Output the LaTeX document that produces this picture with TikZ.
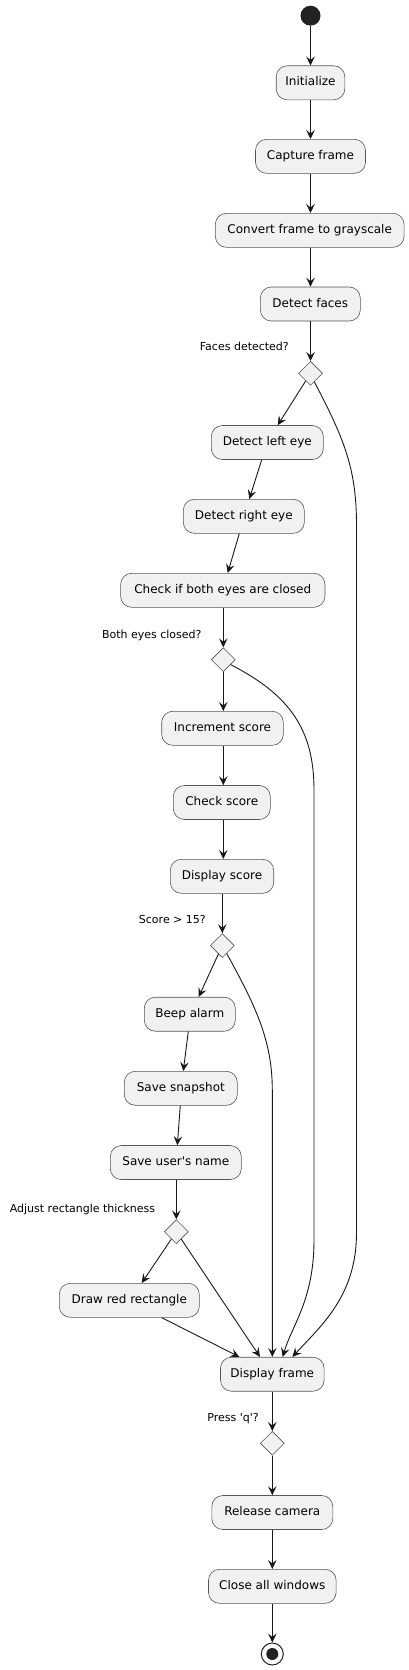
\documentclass[tikz,border=0pt]{standalone}
\usepackage{fontspec}
\setmainfont{DejaVu Sans}[Ligatures=TeXOff]
\usetikzlibrary{shapes.geometric,arrows.meta,positioning}
\definecolor{linec}{HTML}{181818}
\definecolor{borderc}{HTML}{555555}
\definecolor{boxfill}{HTML}{F1F1F1}
\definecolor{dotc}{HTML}{222222}
\tikzset{
  act/.style={draw=borderc, line width=0.6pt, fill=boxfill, rounded corners=11pt,
    minimum height=34pt, inner xsep=8pt, inner ysep=0pt, text height=8.8pt, text depth=2.6pt,
    font=\fontsize{12}{14}\selectfont},
  dec/.style={draw=borderc, line width=0.6pt, fill=boxfill, diamond, minimum width=24pt,
    minimum height=24pt, inner sep=0pt},
  lbl/.style={anchor=base east, inner sep=0pt, font=\fontsize{11}{13}\selectfont},
  arr/.style={draw=linec, line width=0.9pt, -{Stealth[length=9pt,width=8.5pt,inset=3.5pt]}}
}
\begin{document}
\begin{tikzpicture}[x=1pt,y=-1pt]
\useasboundingbox (0,0) rectangle (409,1670);
% nodes
\node[circle, fill=dotc, minimum size=20pt, inner sep=0] (start) at (310.5,15.7) {};
\node[act, minimum width=68.6pt] (init) at (310.5,82.8) {Initialize};
\node[act, minimum width=110pt] (cap) at (310.5,156.3) {Capture frame};
\node[act, minimum width=188.7pt] (conv) at (309.7,230.3) {Convert frame to grayscale};
\node[act, minimum width=100pt] (faces) at (310.3,304) {Detect faces};
\node[dec] (d1) at (310.5,373.3) {};
\node[lbl] (l1) at (289,350.7) {Faces detected?};
\node[act, minimum width=112pt] (le) at (267.3,442.5) {Detect left eye};
\node[act, minimum width=121pt] (re) at (243.8,516.3) {Detect right eye};
\node[act, minimum width=204.3pt] (chk) at (222.8,590.3) {Check if both eyes are closed};
\node[dec] (d2) at (223.3,659.7) {};
\node[lbl] (l2) at (201.7,638) {Both eyes closed?};
\node[act, minimum width=121.6pt] (inc) at (222.5,728.3) {Increment score};
\node[act, minimum width=97pt] (cs) at (221.8,802.5) {Check score};
\node[act, minimum width=103.4pt] (ds) at (222,876.3) {Display score};
\node[dec] (d3) at (222.3,945.5) {};
\node[lbl] (l3) at (206,923) {Score > 15?};
\node[act, minimum width=91pt] (beep) at (189.8,1014.2) {Beep alarm};
\node[act, minimum width=113pt] (snap) at (180.8,1088.3) {Save snapshot};
\node[act, minimum width=131pt] (user) at (175.8,1162.5) {Save user's name};
\node[dec] (d4) at (176.3,1231.7) {};
\node[lbl] (l4) at (155.3,1212.3) {Adjust rectangle thickness};
\node[act, minimum width=140pt] (drawr) at (129.3,1300.3) {Draw red rectangle};
\node[act, minimum width=103.6pt] (disp) at (272.3,1374.2) {Display frame};
\node[dec] (d5) at (272.3,1443.3) {};
\node[lbl] (l5) at (259,1421.3) {Press 'q'?};
\node[act, minimum width=121pt] (rel) at (272.3,1512.5) {Release camera};
\node[act, minimum width=127.7pt] (close) at (272.3,1586.3) {Close all windows};
\node[circle, draw=dotc, line width=1pt, fill=white, minimum size=22pt, inner sep=0] (stop) at (272.3,1654) {};
\node[circle, fill=dotc, minimum size=12pt, inner sep=0] (stopdot) at (stop) {};
% straight connectors
\draw[arr] (start) -- (init);
\draw[arr] (init) -- (cap);
\draw[arr] (cap.south) -- (cap.south |- conv.north);
\draw[arr] (cap.south |- conv.south) -- (cap.south |- faces.north);
\draw[arr] (faces.south -| d1.north) -- (d1.north);
\draw[arr] (d1) -- ([xshift=10.4pt]le.north);
\draw[arr] ([xshift=-5.6pt]le.south) -- ([xshift=5.5pt]re.north);
\draw[arr] ([xshift=-4.5pt]re.south) -- ([xshift=4.9pt]chk.north);
\draw[arr] (chk.south -| d2.north) -- (d2.north);
\draw[arr] (d2.south) -- (d2.south |- inc.north);
\draw[arr] (inc.south -| d2.south) -- (d2.south |- cs.north);
\draw[arr] (cs.south -| d2.south) -- (d2.south |- ds.north);
\draw[arr] (ds.south -| d3.north) -- (d3.north);
\draw[arr] (d3) -- ([xshift=8.9pt]beep.north);
\draw[arr] ([xshift=-1.5pt]beep.south) -- ([xshift=2.5pt]snap.north);
\draw[arr] ([xshift=-0.5pt]snap.south) -- ([xshift=1.5pt]user.north);
\draw[arr] (user.south -| d4.north) -- (d4.north);
\draw[arr] (d4) -- ([xshift=12.4pt]drawr.north);
\draw[arr] (d4) -- ([xshift=-12.3pt]disp.north);
\draw[arr] ([xshift=32.4pt]drawr.south) -- ([xshift=-33pt]disp.north);
\draw[arr] (disp) -- (d5);
\draw[arr] (d5) -- (rel);
\draw[arr] (rel) -- (close);
\draw[arr] (close) -- (stop);
% curved branches
\draw[arr] (d1.-66) .. controls (345,440) and (356.5,470) .. (356.5,525)
  -- (356.5,1233) .. controls (356.5,1295) and (322,1325) .. ([xshift=20pt]disp.north);
\draw[arr] (d2.-34) .. controls (290,695) and (314,730) .. (314,790)
  -- (314,1240) .. controls (314,1300) and (292,1325) .. ([xshift=10.4pt]disp.north);
\draw[arr] (d3.-61) .. controls (255,1005) and (272.3,1040) .. (272.3,1090)
  -- (disp.north);
\end{tikzpicture}
\end{document}
